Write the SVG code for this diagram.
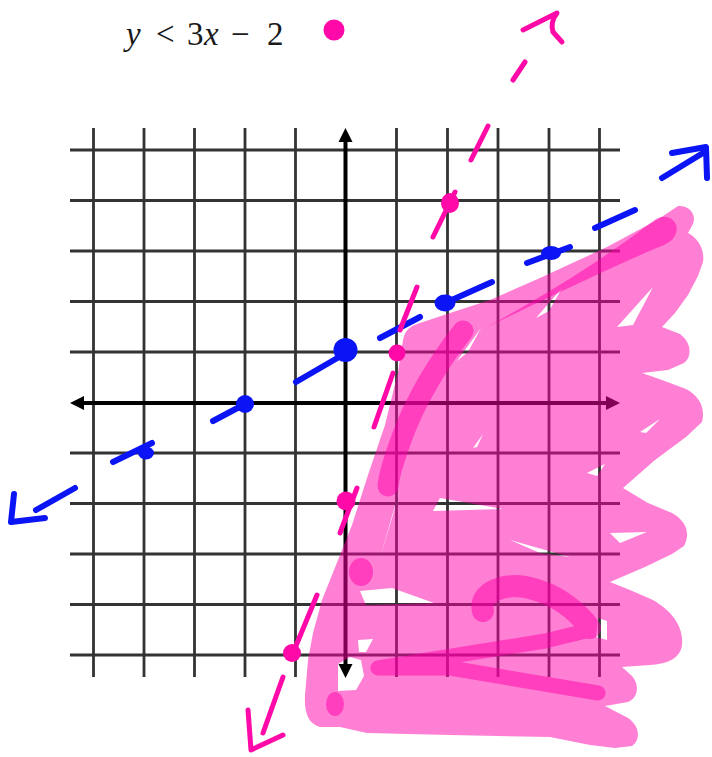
<svg xmlns="http://www.w3.org/2000/svg" width="712" height="757" viewBox="0 0 712 757">
<style>
.grid{stroke:#333;stroke-width:2.8;fill:none}
.axis{stroke:#000;stroke-width:4;fill:none}
.ah{fill:#000}
.blue{stroke:#0a14f5;stroke-width:6;fill:none;stroke-linecap:round;stroke-linejoin:round}
.bdot{fill:#0a14f5}
.pink{stroke:#ff0aa8;stroke-width:5;fill:none;stroke-linecap:round;stroke-linejoin:round}
.pdot{fill:#ff0aa8}
.title{font-family:"Liberation Serif","Times New Roman",serif;font-size:33px;fill:#1a1a1a}
</style>
<rect width="712" height="757" fill="#fff"/>

<g id="title">
<text class="title" y="45" x="126 145 156 178 187 204 223 231 253 267"><tspan font-style="italic">y</tspan> &lt; 3<tspan font-style="italic">x</tspan> − 2</text>
<circle class="pdot" cx="334" cy="30" r="10.5"/>
</g>

<g id="grid">
<path class="grid" d="M93.5,128V677M144,128V677M194.5,128V677M245,128V677M295.5,128V677M396.5,128V677M447.5,128V677M498,128V677M549,128V677M599.5,128V677"/>
<path class="grid" d="M70,150H620M70,200.5H620M70,251H620M70,301.5H620M70,352H620M70,453H620M70,503.5H620M70,554H620M70,604.5H620M70,655H620"/>
</g>

<g id="axes">
<path class="axis" d="M80,403H611M345.5,138V668"/>
<polygon class="ah" points="70,403 84,396 84,410"/>
<polygon class="ah" points="620,403 606,396 606,410"/>
<polygon class="ah" points="345.5,128 338.5,142 352.5,142"/>
<polygon class="ah" points="345.5,678 338.5,664 352.5,664"/>
</g>

<g id="shading">
<path fill="#ff00aa" fill-opacity="0.5" fill-rule="evenodd" d="M678,206 C688,205 697,213 693,224 L688,233 C698,238 705,250 703,262 L698,276 L688,295 L675,313 L662,327 L680,334 C692,343 692,357 684,363 L668,370 L642,373 L662,380 L686,389 C698,395 706,407 702,422 L686,437 L655,460 L623,488 L648,503 L672,513 C688,522 690,535 684,546 L672,554 L645,567 L610,582 L630,590 L653,600 C670,610 684,625 682,645 C680,660 665,664 650,665 L622,667 L632,676 C640,685 638,698 628,702 L605,706 L628,718 C640,726 641,740 632,746 L615,748 L590,745 L550,737 L450,735 L367,733 L340,727 L320,727 C308,724 304,712 305,695 L308,660 L313,633 L322,600 L336,565 L352,525 L368,475 L385,425 L398,372 L403,340 C405,330 410,326 420,323 L450,313 L490,300 L540,278 L607,247 L657,220 Z
M653,287 L617,327 L633,325 Z
M562,288 L536,318 L549,311 Z
M481,328 L457,361 L468,352 Z
M440,498 L503,509 L433,511 Z
M510,540 L570,557 L540,553 Z
M610,533 L647,532 L620,543 Z
M660,419 L640,432 L646,433 Z
M605,464 L587,473 L597,476 Z
M483,434 L473,448 L477,447 Z
M401,488 L380,558 L392,516 Z
M360,591 L392,588 L434,603 L366,605 Z
M338,664 L350,657 L361,660 L364,676 L356,690 L338,691 Z
M358,640 L373,639 L366,652 L359,652 Z
M598,618 L607,621 L607,640 L596,637 Z"/>
<g opacity="0.5">
<path fill="#ff00aa" d="M487,327 C540,298 600,262 656,219 C668,212 680,222 676,233 C674,239 670,242 664,245 C620,263 560,292 487,327 Z"/>
<path stroke="#ff00aa" stroke-width="21" stroke-linecap="round" fill="none" d="M463,331 C440,360 415,400 401,440 C393,462 389,475 388,486"/>
<path stroke="#ff00aa" stroke-width="22" stroke-linecap="round" fill="none" d="M483,611 C478,592 505,582 530,588 C558,595 578,612 590,628"/>
<path stroke="#ff00aa" stroke-width="15" stroke-linecap="round" stroke-linejoin="round" fill="none" d="M590,630 L545,641 L378,668 L450,668 L598,693"/>
<ellipse fill="#ff00aa" cx="361" cy="572" rx="12" ry="14"/>
<ellipse fill="#ff00aa" cx="335" cy="704" rx="9" ry="12"/>
</g>
</g>

<g id="connectors">
<g id="blue-line">
<path class="blue" d="M75,488 L36,510"/>
<path class="blue" d="M14,494 L11,522 L45,518"/>
<path class="blue" d="M113,462 L152,443"/>
<path class="blue" d="M213,421 L245,404"/>
<path class="blue" d="M296,382 L346,353"/>
<path class="blue" d="M380,338 L420,317"/>
<path class="blue" d="M445,303 L492,282"/>
<path class="blue" d="M527,263 L570,247"/>
<path class="blue" d="M595,228 L635,210"/>
<path class="blue" d="M662,178 L703,153"/>
<path class="blue" d="M672,153 L706,147 L707,178"/>
</g>
<g id="pink-line">
<path class="pink" d="M523,30 L557,13 Q550,22 553,32 L562,42"/>
<path class="pink" d="M525,62 L513,80"/>
<path class="pink" d="M488,126 L471,160"/>
<path class="pink" d="M455,192 L433,237"/>
<path class="pink" d="M417,287 L400,330"/>
<path class="pink" d="M393,373 L374,427"/>
<path class="pink" d="M357,488 L340,533"/>
<path class="pink" d="M317,595 L293,653"/>
<path class="pink" d="M283,677 L263,733"/>
<path class="pink" d="M248,710 L251,750 L283,735"/>
</g>
</g>

<g id="points">
<ellipse class="bdot" cx="146" cy="453" rx="8" ry="6.5"/>
<circle class="bdot" cx="245" cy="404" r="9"/>
<circle class="bdot" cx="345.5" cy="350" r="12"/>
<ellipse class="bdot" cx="445" cy="303" rx="10.5" ry="8.5"/>
<ellipse class="bdot" cx="551" cy="253" rx="10" ry="7"/>
<ellipse class="pdot" cx="450" cy="203" rx="9" ry="10"/>
<circle class="pdot" cx="397" cy="353" r="8.5"/>
<circle class="pdot" cx="346" cy="501" r="9.5"/>
<circle class="pdot" cx="292" cy="653" r="9"/>
</g>
</svg>
